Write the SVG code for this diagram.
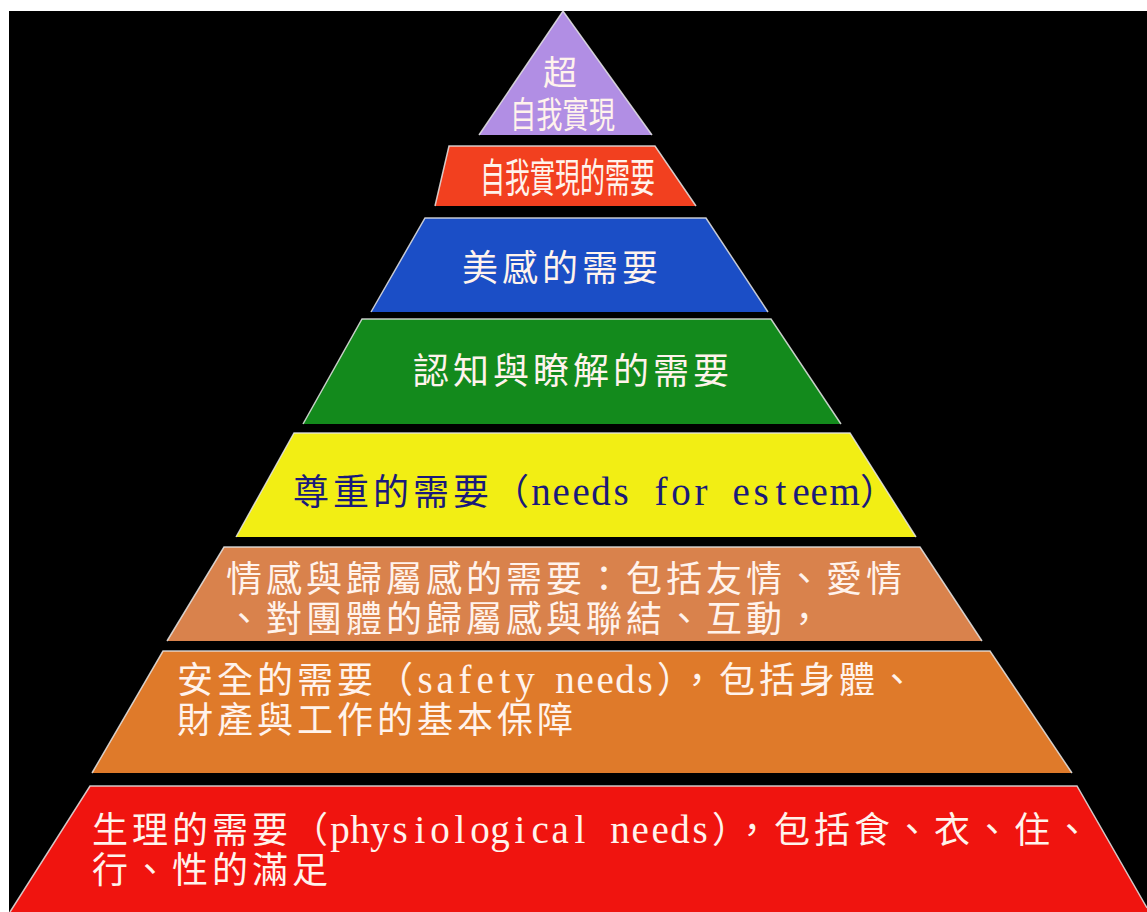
<svg xmlns="http://www.w3.org/2000/svg" width="1147" height="912" viewBox="0 0 1147 912">
<style>
.cj{font-family:"Noto Sans CJK TC","Noto Sans CJK SC",sans-serif;font-size:36px;letter-spacing:4px}
.lt{font-family:"Liberation Serif","DejaVu Serif",serif;font-size:39px;letter-spacing:0}
.w{fill:#fff3ec}
.navy{fill:#1a1a7a}
.edge{fill:none;stroke:#e6e6e6;stroke-width:1.5;stroke-opacity:0.85}
.cond{font-family:"Noto Sans CJK TC","Noto Sans CJK SC",sans-serif}
</style>
<rect x="0" y="0" width="1147" height="912" fill="#ffffff"/>
<rect x="9" y="11" width="1138" height="901" fill="#000000"/>

<g id="layer-transcendence">
<polygon points="563,11 652,135 479,135" fill="#b18ee4"/>
<polyline class="edge" points="479,135 563,11 652,135"/>
<text class="cond w" x="560" y="85" font-size="34" text-anchor="middle">超</text>
<text class="cond w" x="510" y="128" font-size="36" textLength="105" lengthAdjust="spacingAndGlyphs">自我實現</text>
</g>

<g id="layer-self-actualization">
<polygon points="449,146 655,146 696,206 435,206" fill="#f2401f"/>
<polyline class="edge" points="435,206 449,146 655,146 696,206"/>
<text class="cond w" x="480" y="192" font-size="40" textLength="175" lengthAdjust="spacingAndGlyphs">自我實現的需要</text>
</g>

<g id="layer-aesthetic">
<polygon points="425,218 706,218 768,312 371,312" fill="#1b4ec6"/>
<polyline class="edge" points="371,312 425,218 706,218 768,312"/>
<text class="w" x="462" y="281"><tspan class="cj">美感的需要</tspan></text>
</g>

<g id="layer-cognitive">
<polygon points="362,319 771,319 841,424 303,424" fill="#138a1c"/>
<polyline class="edge" points="303,424 362,319 771,319 841,424"/>
<text class="w" x="413" y="384"><tspan class="cj">認知與瞭解的需要</tspan></text>
</g>

<g id="layer-esteem">
<polygon points="294,433 850,433 916,537 236,537" fill="#f2ee14"/>
<polyline class="edge" points="236,537 294,433 850,433 916,537"/>
<text class="navy" x="293" y="505"><tspan class="cj">尊重的需要（</tspan><tspan class="lt" x="531.3 552.4 572.4 591.3 613.4 631 654.5 671.3 694.5 711 732.4 753.4 775.6 792.4 810.5 829.5">needs for esteem</tspan><tspan class="cj" x="860">）</tspan></text>
</g>

<g id="layer-belonging">
<polygon points="224,547 920,547 982,641 167,641" fill="#d9824c"/>
<polyline class="edge" points="167,641 224,547 920,547 982,641"/>
<text class="w" x="226" y="592"><tspan class="cj">情感與歸屬感的需要：包括友情、愛情</tspan></text>
<text class="w" x="226" y="632"><tspan class="cj">、對團體的歸屬感與聯結、互動，</tspan></text>
</g>

<g id="layer-safety">
<polygon points="163,651 990,651 1072,773 92,773" fill="#df7a2a"/>
<polyline class="edge" points="92,773 163,651 990,651 1072,773"/>
<text class="w" x="177" y="693"><tspan class="cj">安全的需要（</tspan><tspan class="lt" x="417.4 436.4 458.5 476.4 499.6 515.3 535 555.3 576.4 596.4 615.3 637.4">safety needs</tspan><tspan class="cj" x="657">），包括身體、</tspan></text>
<text class="w" x="177" y="733"><tspan class="cj">財產與工作的基本保障</tspan></text>
</g>

<g id="layer-physiological">
<polygon points="90,786 1077,786 1147,908 1147,912 10,912" fill="#f0140f"/>
<polyline class="edge" points="10,912 90,786 1077,786 1147,908"/>
<text class="w" x="92" y="843"><tspan class="cj">生理的需要（</tspan><tspan class="lt" x="330.3 350.3 370.3 392.4 414.6 430.3 454.6 470.3 490.3 514.6 531.4 551.4 574.6 590 610.3 631.4 651.4 670.3 692.4">physiological needs</tspan><tspan class="cj" x="712">），包括食、衣、住、</tspan></text>
<text class="w" x="92" y="883"><tspan class="cj">行、性的滿足</tspan></text>
</g>
</svg>
